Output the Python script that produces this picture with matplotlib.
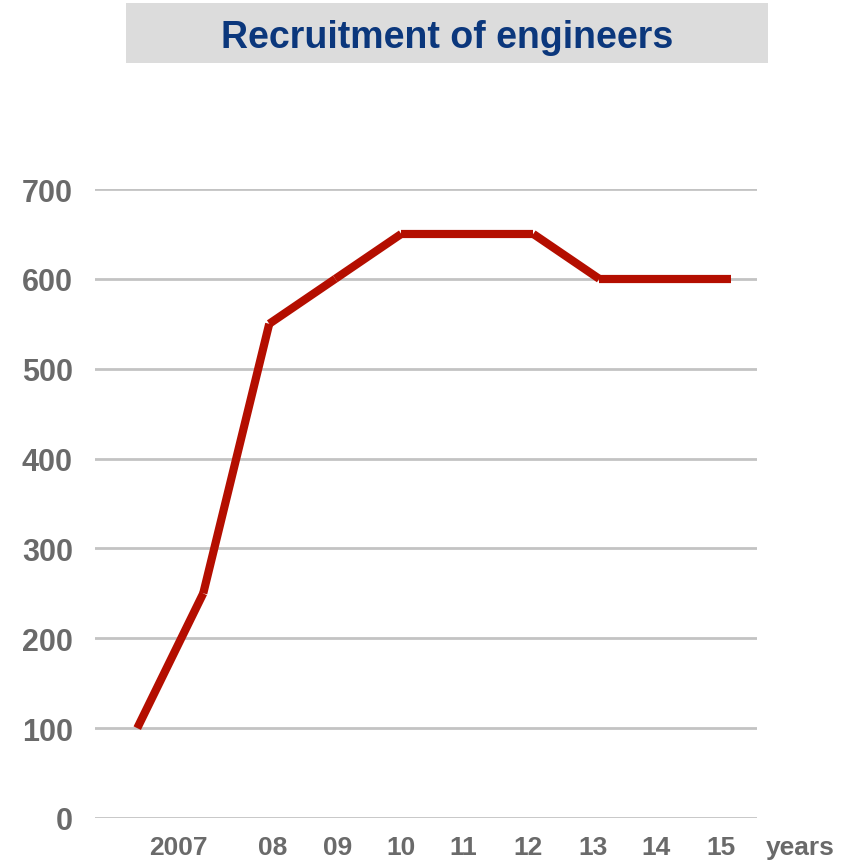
import matplotlib
matplotlib.use("Agg")
import matplotlib.pyplot as plt
from matplotlib.patches import Rectangle

plt.rcParams['font.family'] = ['Liberation Sans', 'DejaVu Sans']
plt.rcParams['font.weight'] = 'bold'

# recruitment per period (points are evenly spaced along the x axis)
recruits = [100, 250, 550, 600, 650, 650, 650, 600, 600, 600]
points = list(range(len(recruits)))

# year labels and where they sit under the line
year_labels = ['2007', '08', '09', '10', '11', '12', '13', '14', '15']
year_pos = [0.63, 2.05, 3.03, 4.0, 4.94, 5.92, 6.9, 7.86, 8.84]
y_ticks = [0, 100, 200, 300, 400, 500, 600, 700]

red = '#B40E00'
grey_text = '#6A6A6A'
navy = '#0B377C'

fig = plt.figure(figsize=(8.46, 8.62), dpi=100)
ax = fig.add_axes([95 / 846, 1 - 819 / 862, 662 / 846, 629 / 862])

# title banner
fig.patches.append(Rectangle((126 / 846, 1 - 64 / 862), 642 / 846, 60 / 862,
                             transform=fig.transFigure, facecolor='#DCDCDC',
                             edgecolor='none', zorder=0))
fig.text(447 / 846, 1 - 48 / 862, 'Recruitment of engineers', ha='center',
         va='baseline', fontsize=27, fontweight='bold', color=navy)

# each year-to-year step drawn as its own stroke
for i in range(len(recruits) - 1):
    ax.plot(points[i:i + 2], recruits[i:i + 2], color=red, lw=5.9,
            solid_capstyle='butt', zorder=3)

ax.set_xlim(-0.64, 9.39)
ax.set_ylim(0, 700)
ax.set_yticks(y_ticks)
ax.set_yticklabels([str(v) for v in y_ticks])
ax.set_xticks(year_pos)
ax.set_xticklabels(year_labels)
ax.grid(axis='y', color='#C3C3C3', lw=2.0)
ax.set_axisbelow(True)
for s in ax.spines.values():
    s.set_visible(False)
ax.tick_params(axis='y', length=0, pad=16, labelsize=22, labelcolor=grey_text)
ax.tick_params(axis='x', length=0, pad=12, labelsize=19, labelcolor=grey_text)

ax.annotate('years', xy=(10.05, 0), xycoords=('data', 'axes fraction'),
            xytext=(0, -12), textcoords='offset points', ha='center', va='top',
            fontsize=19, fontweight='bold', color=grey_text, annotation_clip=False)

fig.savefig('out.png', dpi=100)
